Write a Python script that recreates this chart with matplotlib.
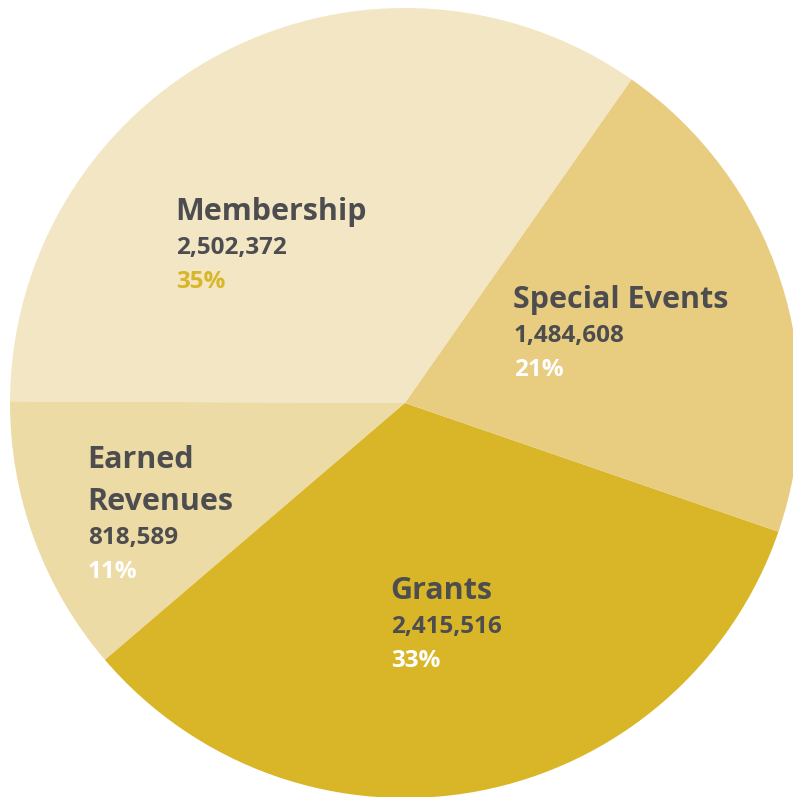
import numpy as np
import matplotlib.pyplot as plt

# Donnees
categories = ["Membership", "Earned\nRevenues", "Grants", "Special Events"]
amounts = [2502372, 818589, 2415516, 1484608]
percents = ["35%", "11%", "33%", "21%"]
colors = ["#F3E6C4", "#EDDBA5", "#D9B628", "#E8CD80"]
pct_colors = ["#D9B628", "white", "white", "white"]

# positions des textes en pixels (x gauche, y centre du titre)
label_px = [(177, 212), (89, 460), (392, 591), (515, 300)]

W, H = 793, 797
cx, cy, R = 405, 403, 395

plt.rcParams['font.family'] = ['Open Sans', 'DejaVu Sans']

fig = plt.figure(figsize=(W / 100, H / 100), dpi=100)
ax = fig.add_axes([0, 0, 1, 1])

ax.pie(amounts, colors=colors, startangle=55.0, counterclock=True,
       radius=1.0, wedgeprops=dict(linewidth=0))

# limites apres pie (pie les remet a zero sinon)
ax.set_xlim(-cx / R, (W - cx) / R)
ax.set_ylim(-(H - cy) / R, cy / R)
ax.set_aspect("equal")
ax.axis("off")


def px(x, y):
    return (x - cx) / R, (cy - y) / R


for i, cat in enumerate(categories):
    x0, y0 = label_px[i]
    lines = cat.split("\n")
    for k, line in enumerate(lines):
        ax.text(*px(x0 - 2, y0 + k * 42), line, fontsize=22, fontweight="bold",
                color="#4D4D4F", ha="left", va="center")
    yv = y0 + (len(lines) - 1) * 42 + 36
    ax.text(*px(x0 - 1, yv), f"{amounts[i]:,}", fontsize=17.5, fontweight="bold",
            color="#4D4D4F", ha="left", va="center")
    ax.text(*px(x0 - 1, yv + 34), percents[i], fontsize=17.5, fontweight="bold",
            color=pct_colors[i], ha="left", va="center")

fig.savefig("out.png", dpi=100)
